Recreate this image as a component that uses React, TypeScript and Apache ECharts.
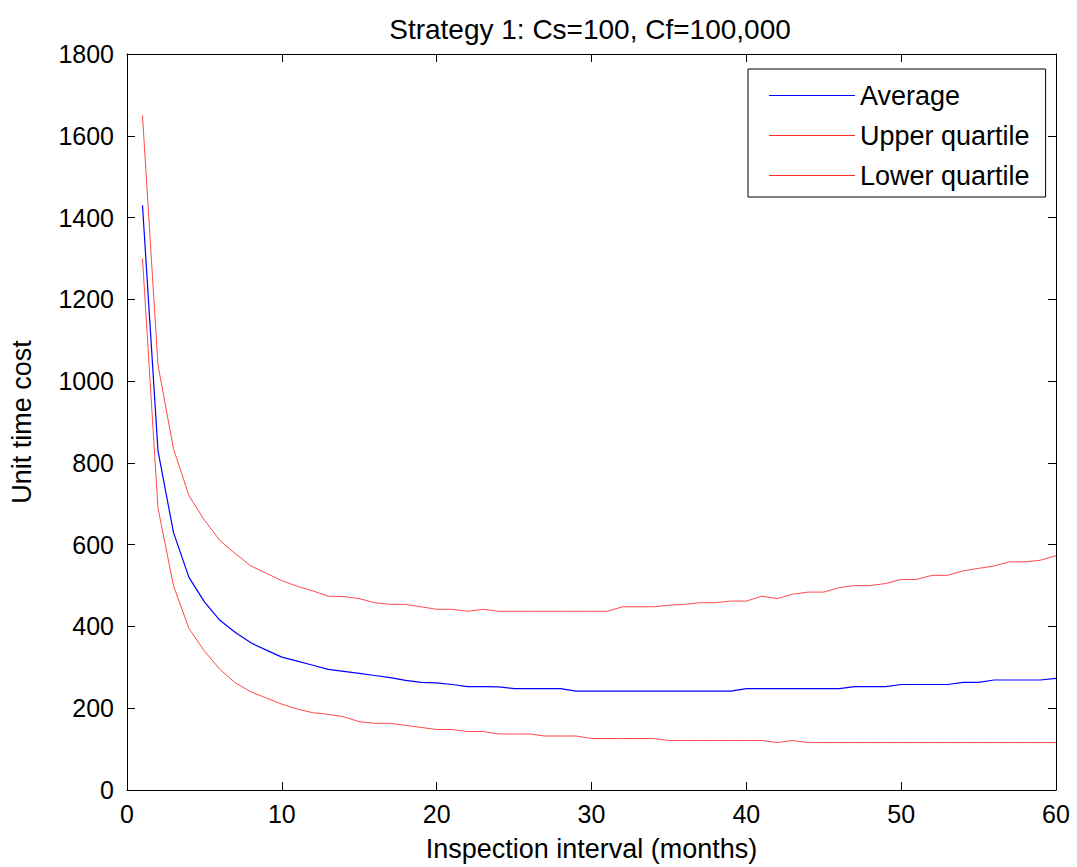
import React, { useEffect, useRef } from "react";
import * as echarts from "echarts";

const months: number[] = Array.from({ length: 60 }, (_, i) => i + 1);

const averageCost: number[] = [
  1430, 830, 630, 520, 460, 415, 385, 360, 342, 325,
  315, 305, 295, 290, 285, 280, 275, 268, 263, 262,
  258, 253, 253, 252, 248, 248, 248, 248, 242, 242,
  242, 242, 242, 242, 242, 242, 242, 242, 242, 248,
  248, 248, 248, 248, 248, 248, 253, 253, 253, 258,
  258, 258, 258, 263, 263, 269, 269, 269, 269, 273,
];

const upperQuartile: number[] = [
  1650, 1040, 835, 720, 660, 610, 578, 548, 530, 512,
  498, 487, 474, 473, 468, 458, 454, 454, 448, 442,
  442, 437, 442, 437, 437, 437, 437, 437, 437, 437,
  437, 448, 448, 448, 452, 454, 458, 458, 462, 462,
  474, 468, 479, 484, 484, 495, 500, 500, 505, 515,
  515, 525, 525, 536, 542, 548, 558, 558, 562, 573,
];

const lowerQuartile: number[] = [
  1300, 690, 500, 395, 340, 295, 262, 240, 225, 210,
  198, 189, 185, 179, 167, 163, 163, 158, 153, 148,
  148, 143, 143, 137, 137, 137, 132, 132, 132, 126,
  126, 126, 126, 126, 121, 121, 121, 121, 121, 121,
  121, 116, 121, 116, 116, 116, 116, 116, 116, 116,
  116, 116, 116, 116, 116, 116, 116, 116, 116, 116,
];

const legendNames: string[] = ["Average", "Upper quartile", "Lower quartile"];

const FONT = "Liberation Sans, Arial, sans-serif";
const BLUE = "#0000ff";
const RED = "#ff2a2a";

export default function App() {
  const ref = useRef<HTMLDivElement>(null);
  useEffect(() => {
    if (!ref.current) return;
    const chart = echarts.init(ref.current, undefined, { renderer: "svg" });
    const pair = (arr: number[]) => months.map((m, i) => [m, arr[i]]);
    const tickStyle = { show: true, inside: true, length: 8, lineStyle: { color: "#000", width: 1 } };
    const lineAxis = { show: true, onZero: false, lineStyle: { color: "#000", width: 1 } };
    chart.setOption({
      animation: false,
      backgroundColor: "#fff",
      title: {
        text: "Strategy 1: Cs=100, Cf=100,000",
        left: 585,
        textAlign: "center",
        top: 10,
        textStyle: { fontFamily: FONT, fontSize: 28, fontWeight: "normal", color: "#000" },
      },
      legend: {
        left: 748,
        top: 69,
        orient: "vertical",
        icon: "rect",
        itemWidth: 86,
        itemHeight: 1.2,
        itemGap: 13,
        padding: [13, 16, 8, 21],
        borderColor: "#000",
        borderWidth: 1,
        borderRadius: 0,
        backgroundColor: "#fff",
        textStyle: { fontFamily: FONT, fontSize: 27, lineHeight: 27, color: "#000" },
        data: legendNames,
      },
      grid: { left: 126, top: 54, width: 930, height: 736, containLabel: false },
      xAxis: [
        {
          type: "value",
          min: 0,
          max: 60,
          interval: 10,
          name: "Inspection interval (months)",
          nameLocation: "middle",
          nameGap: 45,
          nameTextStyle: { fontFamily: FONT, fontSize: 27, color: "#000" },
          axisLine: lineAxis,
          axisTick: tickStyle,
          axisLabel: { fontFamily: FONT, fontSize: 25, color: "#000", margin: 11 },
          splitLine: { show: false },
        },
        {
          type: "value",
          position: "top",
          min: 0,
          max: 60,
          interval: 10,
          axisLine: lineAxis,
          axisTick: tickStyle,
          axisLabel: { show: false },
          splitLine: { show: false },
        },
      ],
      yAxis: [
        {
          type: "value",
          min: 0,
          max: 1800,
          interval: 200,
          name: "Unit time cost",
          nameLocation: "middle",
          nameGap: 92,
          nameTextStyle: { fontFamily: FONT, fontSize: 27, color: "#000" },
          axisLine: lineAxis,
          axisTick: tickStyle,
          axisLabel: {
            fontFamily: FONT,
            fontSize: 25,
            color: "#000",
            margin: 13,
            formatter: (v: number) => String(v),
          },
          splitLine: { show: false },
        },
        {
          type: "value",
          position: "right",
          min: 0,
          max: 1800,
          interval: 200,
          axisLine: lineAxis,
          axisTick: tickStyle,
          axisLabel: { show: false },
          splitLine: { show: false },
        },
      ],
      series: [
        {
          name: legendNames[0],
          type: "line",
          symbol: "none",
          data: pair(averageCost),
          lineStyle: { color: BLUE, width: 1.2 },
          itemStyle: { color: BLUE },
        },
        {
          name: legendNames[1],
          type: "line",
          symbol: "none",
          data: pair(upperQuartile),
          lineStyle: { color: RED, width: 1, opacity: 0.85 },
          itemStyle: { color: RED },
        },
        {
          name: legendNames[2],
          type: "line",
          symbol: "none",
          data: pair(lowerQuartile),
          lineStyle: { color: RED, width: 1, opacity: 0.85 },
          itemStyle: { color: RED },
        },
      ],
    });
    return () => chart.dispose();
  }, []);
  return (
    <div
      ref={ref}
      style={{ position: "fixed", left: 0, top: 0, width: 1077, height: 867, background: "#fff" }}
    />
  );
}
